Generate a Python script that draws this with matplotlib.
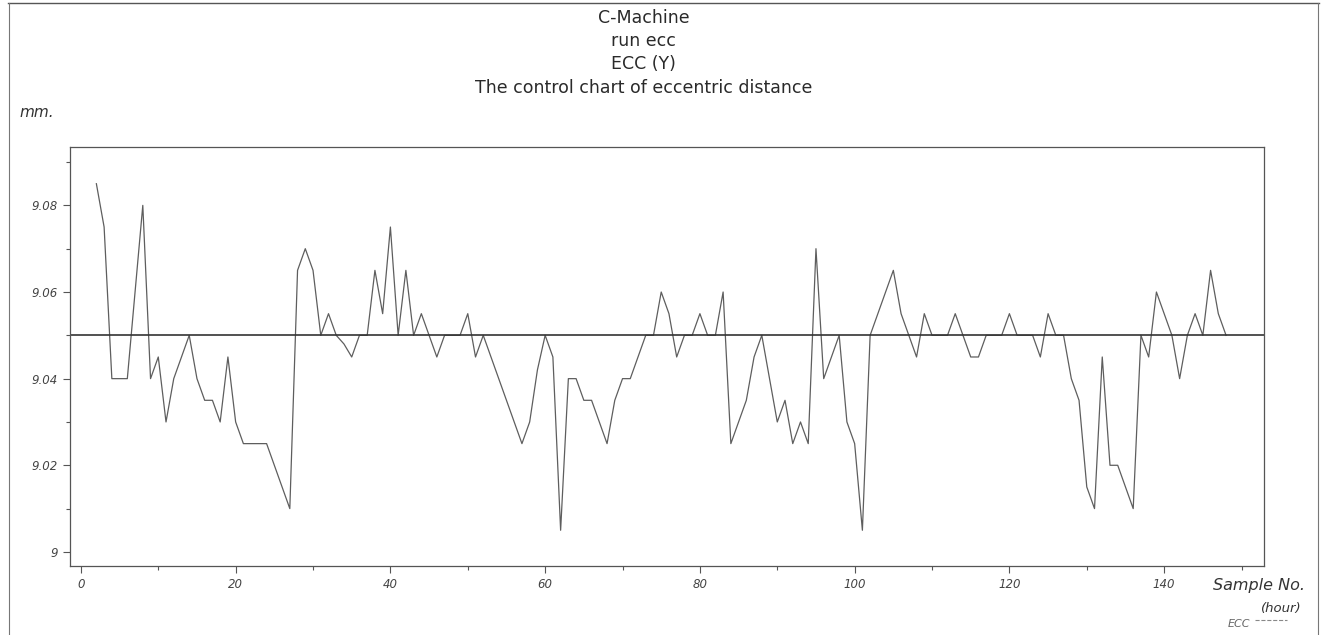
import matplotlib
matplotlib.use('Agg')
import matplotlib.pyplot as plt
from matplotlib.ticker import MultipleLocator, FuncFormatter
from matplotlib.lines import Line2D
import numpy as np

# Chart data
title_lines = ['C-Machine', 'run ecc', 'ECC (Y)', 'The control chart of eccentric distance']
sample_no = list(range(2, 149))
ecc = [9.085, 9.075, 9.04, 9.04, 9.04, 9.06, 9.08, 9.04,            # 2-9
       9.045, 9.03, 9.04, 9.045, 9.05, 9.04, 9.035, 9.035, 9.03, 9.045,  # 10-19
       9.03, 9.025, 9.025, 9.025, 9.025, 9.02, 9.015, 9.01, 9.065, 9.07,  # 20-29
       9.065, 9.05, 9.055, 9.05, 9.048, 9.045, 9.05, 9.05, 9.065, 9.055,  # 30-39
       9.075, 9.05, 9.065, 9.05, 9.055, 9.05, 9.045, 9.05, 9.05, 9.05,    # 40-49
       9.055, 9.045, 9.05, 9.045, 9.04, 9.035, 9.03, 9.025, 9.03, 9.042,  # 50-59
       9.05, 9.045, 9.005, 9.04, 9.04, 9.035, 9.035, 9.03, 9.025, 9.035,  # 60-69
       9.04, 9.04, 9.045, 9.05, 9.05, 9.06, 9.055, 9.045, 9.05, 9.05,     # 70-79
       9.055, 9.05, 9.05, 9.06, 9.025, 9.03, 9.035, 9.045, 9.05, 9.04,    # 80-89
       9.03, 9.035, 9.025, 9.03, 9.025, 9.07, 9.04, 9.045, 9.05, 9.03,    # 90-99
       9.025, 9.005, 9.05, 9.055, 9.06, 9.065, 9.055, 9.05, 9.045, 9.055, # 100-109
       9.05, 9.05, 9.05, 9.055, 9.05, 9.045, 9.045, 9.05, 9.05, 9.05,     # 110-119
       9.055, 9.05, 9.05, 9.05, 9.045, 9.055, 9.05, 9.05, 9.04, 9.035,    # 120-129
       9.015, 9.01, 9.045, 9.02, 9.02, 9.015, 9.01, 9.05, 9.045, 9.06,    # 130-139
       9.055, 9.05, 9.04, 9.05, 9.055, 9.05, 9.065, 9.055, 9.05]          # 140-148
center_line = 9.05

fig = plt.figure(figsize=(13.27, 6.35), dpi=100)
ax = fig.add_axes([0.0528, 0.109, 0.8997, 0.659])

ax.plot(sample_no, ecc, color='#5e5e5e', linewidth=0.9)
ax.axhline(center_line, color='#333333', linewidth=1.2)

ax.set_xlim(-1.4, 152.9)
ax.set_ylim(8.9968, 9.0934)
ax.xaxis.set_major_locator(MultipleLocator(20))
ax.xaxis.set_minor_locator(MultipleLocator(10))
ax.yaxis.set_major_locator(MultipleLocator(0.02))
ax.yaxis.set_minor_locator(MultipleLocator(0.01))
ax.yaxis.set_major_formatter(FuncFormatter(lambda v, p: '{:g}'.format(round(v, 3))))

ax.tick_params(which='major', direction='out', length=5, width=0.8, color='#555555',
               labelsize=8.5, labelcolor='#444444', pad=4)
ax.tick_params(which='minor', direction='out', length=3, width=0.8, color='#555555')
for lab in ax.get_xticklabels() + ax.get_yticklabels():
    lab.set_fontstyle('italic')
for s in ax.spines.values():
    s.set_color('#555555')
    s.set_linewidth(0.9)

# title block
ys = [0.972, 0.935, 0.899, 0.862]
for t, y in zip(title_lines, ys):
    fig.text(0.485, y, t, ha='center', va='center', fontsize=12.5,
             family='DejaVu Sans', color='#2a2a2a')

# handwritten notes and legend
fig.text(0.015, 0.815, 'mm.', fontsize=11, style='italic', color='#333333')
fig.text(0.914, 0.071, 'Sample No.', fontsize=11.5, style='italic', color='#333333')
fig.text(0.95, 0.037, '(hour)', fontsize=9.5, style='italic', color='#333333')
fig.text(0.925, 0.013, 'ECC', fontsize=8, style='italic', color='#666666')
fig.add_artist(Line2D([0.946, 0.97], [0.024, 0.024], transform=fig.transFigure,
                      color='#888888', linewidth=0.8, linestyle='--'))

# page frame from the scan
fig.add_artist(Line2D([0.006, 0.994], [0.995, 0.995], transform=fig.transFigure, color='#555555', linewidth=1))
fig.add_artist(Line2D([0.007, 0.007], [0.0, 0.995], transform=fig.transFigure, color='#777777', linewidth=0.8))
fig.add_artist(Line2D([0.993, 0.993], [0.0, 0.995], transform=fig.transFigure, color='#777777', linewidth=0.8))

fig.savefig('out.png', dpi=100, facecolor='white')
